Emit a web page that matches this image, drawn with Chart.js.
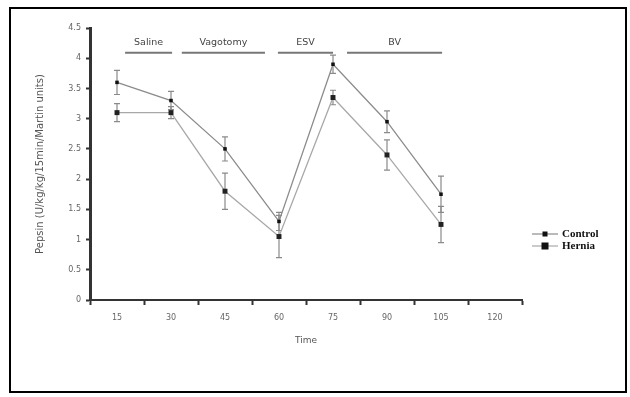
<!DOCTYPE html>
<html>
<head>
<meta charset="utf-8">
<script src="https://cdn.jsdelivr.net/npm/chart.js@4"></script>
<style>
  html,body{margin:0;padding:0;background:#fff;}
  #wrap{position:relative;width:630px;height:397px;}
</style>
</head>
<body>
<div id="wrap"><canvas id="chart" width="630" height="397"></canvas></div>
<script>
const times=['15','30','45','60','75','90','105','120'];
const yTicks=[0,0.5,1,1.5,2,2.5,3,3.5,4,4.5];

const control=[3.6,3.3,2.5,1.3,3.9,2.95,1.75,null];
const controlErr=[0.2,0.15,0.2,0.15,0.15,0.18,0.3,null];
const hernia=[3.1,3.1,1.8,1.05,3.35,2.4,1.25,null];
const herniaErr=[0.15,0.1,0.3,0.35,0.12,0.25,0.3,null];

const phases=['Saline','Vagotomy','ESV','BV'];
const phaseStart=[0.15,1.2,2.98,4.26];
const phaseEnd=[1.02,2.74,4.0,6.02];
const phaseLevel=4.09;

const errs=[controlErr,herniaErr];

const extras={
  id:'extras',
  beforeDatasetsDraw(chart){
    const ctx=chart.ctx, y=chart.scales.y;
    ctx.save();
    ctx.strokeStyle='#8a8a8a';
    ctx.lineWidth=1.2;
    chart.data.datasets.forEach((ds,i)=>{
      const meta=chart.getDatasetMeta(i);
      ds.data.forEach((v,j)=>{
        if(v==null) return;
        const e=errs[i][j];
        const x=meta.data[j].x;
        const t=y.getPixelForValue(v+e), b=y.getPixelForValue(v-e);
        ctx.beginPath();
        ctx.moveTo(x,t);ctx.lineTo(x,b);
        ctx.moveTo(x-3,t);ctx.lineTo(x+3,t);
        ctx.moveTo(x-3,b);ctx.lineTo(x+3,b);
        ctx.stroke();
      });
    });
    ctx.restore();
  },
  afterDraw(chart){
    const ctx=chart.ctx, x=chart.scales.x, y=chart.scales.y;
    ctx.save();
    // phase bars
    const ly=y.getPixelForValue(phaseLevel);
    ctx.strokeStyle='#777';
    ctx.lineWidth=2;
    ctx.fillStyle='#444';
    ctx.font='9.5px "DejaVu Sans"';
    ctx.textAlign='center';
    ctx.textBaseline='bottom';
    phases.forEach((p,i)=>{
      const a=x.getPixelForValue(phaseStart[i]), b=x.getPixelForValue(phaseEnd[i]);
      ctx.beginPath();ctx.moveTo(a,ly);ctx.lineTo(b,ly);ctx.stroke();
      ctx.fillText(p,(a+b)/2,ly-6);
    });
    // legend
    const items=[['Control',chart.data.datasets[0]],['Hernia',chart.data.datasets[1]]];
    ctx.font='bold 11px "Liberation Serif"';
    ctx.textAlign='left';
    ctx.textBaseline='middle';
    items.forEach((it,i)=>{
      const yy=234+i*12, x0=532;
      ctx.strokeStyle=it[1].borderColor;
      ctx.lineWidth=1.2;
      ctx.beginPath();ctx.moveTo(x0,yy);ctx.lineTo(x0+26,yy);ctx.stroke();
      const r=it[1].pointRadius;
      ctx.fillStyle='#111';
      ctx.fillRect(x0+13-r,yy-r,2*r,2*r);
      ctx.fillText(it[0],x0+30,yy);
    });
    // frame
    ctx.strokeStyle='#000';
    ctx.lineWidth=2;
    ctx.strokeRect(10,8,616,384);
    ctx.restore();
  }
};

new Chart(document.getElementById('chart'),{
  type:'line',
  data:{
    labels:times,
    datasets:[
      {label:'Control',data:control,borderColor:'#8c8c8c',borderWidth:1.3,
       pointStyle:'rect',pointRadius:2.5,pointBackgroundColor:'#111',pointBorderColor:'#111',pointBorderWidth:0},
      {label:'Hernia',data:hernia,borderColor:'#a8a8a8',borderWidth:1.3,
       pointStyle:'rect',pointRadius:3.5,pointBackgroundColor:'#222',pointBorderColor:'#222',pointBorderWidth:0}
    ]
  },
  options:{
    responsive:false,
    animation:false,
    layout:{padding:{left:32,top:28,right:108,bottom:47}},
    plugins:{legend:{display:false},tooltip:{enabled:false}},
    scales:{
      x:{
        offset:true,
        grid:{display:true,drawOnChartArea:false,offset:true,tickLength:5,color:'#333',tickWidth:2},
        border:{color:'#333',width:2},
        ticks:{color:'#666',font:{size:8,family:'"DejaVu Sans"'},padding:8},
        title:{display:true,text:'Time',color:'#555',font:{size:9,family:'"DejaVu Sans"'},padding:{top:10}},
        afterFit(s){s.height=50;}
      },
      y:{
        min:0,max:4.5,
        afterBuildTicks(s){s.ticks=yTicks.map(v=>({value:v}));},
        grid:{display:true,drawOnChartArea:false,tickLength:4,color:'#333',tickWidth:2},
        border:{color:'#333',width:3},
        ticks:{color:'#666',font:{size:8,family:'"DejaVu Sans"'},padding:5,callback:(v)=>String(v)},
        title:{display:true,text:'Pepsin (U/kg/kg/15min/Martin units)',color:'#555',font:{size:10,family:'"DejaVu Sans"'},padding:{top:2,bottom:0}},
        afterFit(s){s.width=58;}
      }
    }
  },
  plugins:[extras]
});
</script>
</body>
</html>
